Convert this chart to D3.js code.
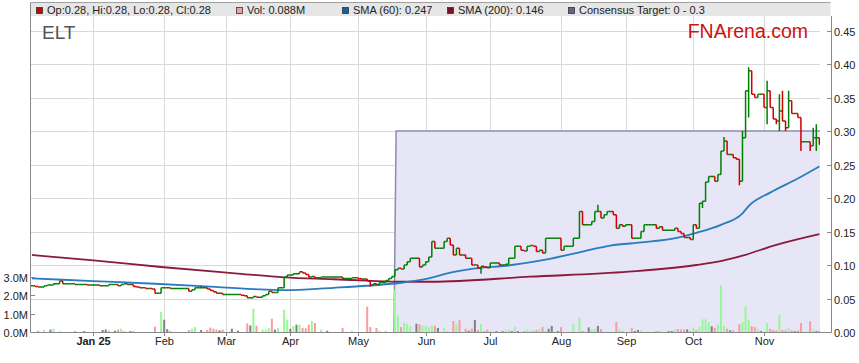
<!DOCTYPE html>
<html>
<head>
<meta charset="utf-8">
<script src="https://cdn.jsdelivr.net/npm/d3@7"></script>
<style>
  body { margin: 0; background: #fff; }
  svg { display: block; font-family: "Liberation Sans", Arial, sans-serif; }
</style>
</head>
<body>
<div id="chart"></div>
<script>
// ---- data ----
const ticker = "ELT";
const firstDay = "2024-12-04";
const lastDay = "2025-11-28";

// daily closes, one per weekday from firstDay
const closes = [
  // Dec
  0.069,0.068,0.067,0.067,0.069,0.070,0.070,0.072,0.072,0.076,0.072,0.072,0.072,0.072,0.071,0.071,0.071,0.071,0.070,0.070,
  // Jan
  0.070,0.070,0.069,0.069,0.069,0.071,0.071,0.071,0.069,0.071,0.072,0.071,0.071,0.068,0.067,0.066,0.066,0.065,0.065,0.064,0.058,0.058,0.066,
  // Feb
  0.066,0.066,0.065,0.065,0.065,0.065,0.065,0.065,0.061,0.063,0.066,0.066,0.066,0.066,0.064,0.062,0.060,0.058,0.058,0.056,
  // Mar
  0.056,0.056,0.056,0.056,0.056,0.055,0.054,0.051,0.051,0.053,0.052,0.052,0.054,0.056,0.061,0.059,0.059,0.066,0.066,0.082,0.085,
  // Apr
  0.085,0.087,0.087,0.090,0.088,0.086,0.082,0.083,0.081,0.081,0.082,0.082,0.082,0.082,0.082,0.082,0.082,0.080,0.080,0.080,0.081,0.081,
  // May
  0.080,0.079,0.079,0.076,0.070,0.072,0.071,0.074,0.074,0.077,0.080,0.083,0.093,0.095,0.094,0.100,0.105,0.110,0.110,0.110,0.097,0.100,
  // Jun
  0.105,0.112,0.135,0.125,0.125,0.125,0.135,0.140,0.130,0.115,0.125,0.115,0.115,0.110,0.110,0.100,0.100,0.095,0.098,0.097,0.096,
  // Jul
  0.103,0.103,0.103,0.100,0.100,0.101,0.110,0.110,0.128,0.128,0.122,0.121,0.128,0.129,0.128,0.120,0.122,0.118,0.140,0.140,0.140,0.140,0.140,
  // Aug
  0.122,0.128,0.128,0.128,0.140,0.140,0.180,0.160,0.160,0.160,0.165,0.180,0.180,0.170,0.175,0.180,0.180,0.175,0.155,0.160,0.158,
  // Sep
  0.160,0.160,0.140,0.140,0.140,0.150,0.160,0.160,0.160,0.160,0.155,0.157,0.152,0.152,0.152,0.152,0.155,0.150,0.147,0.141,0.141,0.138,
  // Oct
  0.160,0.155,0.192,0.195,0.224,0.232,0.232,0.225,0.235,0.270,0.285,0.265,0.265,0.260,0.258,0.225,0.290,0.360,0.390,0.355,0.350,0.355,0.355,
  // Nov
  0.335,0.360,0.335,0.318,0.315,0.330,0.315,0.305,0.345,0.326,0.326,0.320,0.284,0.284,0.284,0.278,0.290,0.290,0.280
];

// daily volume in millions, same days as closes
const volumes = [
  0,0,0.07,0,0.11,0,0.13,0.18,0,0.05,0,0,0,0,0.05,0,0,0.05,0,0,
  0,0,0,0.11,0.14,0.09,0,0.07,0.13,0.18,0.07,0,0.05,0.05,0,0,0,0,0,0,0.29,0,1.09,
  0.67,0.16,0.05,0,0,0,0,0,0.11,0.18,0.27,0,0.11,0,0.11,0.24,0.18,0.13,0.09,0.13,
  0,0,0.18,0,0.07,0,0,0.47,0.36,1.27,0.34,0,0.13,0.13,0.22,0.72,0.13,0.22,0,1.21,0.67,
  0.18,0.33,0.40,0.40,0.22,0.20,0.40,0.60,0.49,0,0.13,0,0.07,0,0,0,0,0.22,0,0,0.07,0,
  0,0,0,1.38,0.27,0,0.22,0.07,0,0.07,0,0,2.30,0.90,0.27,0.49,0.45,0.31,0,0.45,0.42,0.36,
  0.36,0.27,0.36,0.33,0.22,0,0.22,0.05,0,0.60,0.42,0.65,0,0.18,0.07,0.18,0.65,0.11,0.43,0.05,0.13,
  0.05,0,0.05,0,0.05,0.09,0.14,0.05,0.27,0.05,0,0.05,0.13,0.09,0.05,0.11,0.14,0.27,0.07,0.18,0.33,0,0.05,
  0.27,0,0,0,0.45,0,0.76,0.05,0,0.25,0.14,0.16,0.33,0.16,0,0,0,0,0.54,0.16,0.05,
  0,0,0.22,0.05,0.11,0.09,0,0,0,0,0.05,0.09,0,0,0.05,0.05,0.14,0.16,0.14,0.13,0.14,0.05,
  0.25,0.11,0.27,0.69,0.69,0.54,0.31,0.22,0.40,2.54,0.31,0.18,0.09,0.09,0,0.42,0.54,1.40,0.67,0.31,0.27,0.18,0.05,
  0,0.49,0.18,0.11,0.09,0.94,0.11,0.09,0.20,0.09,0.05,0.09,0.49,0,0,0.58,0.13,0.05,0.088
];

// intraday extremes beyond open/close: [day number, price]
const extraHighs = [[55,0.069],[184,0.19],[225,0.291],[231,0.30],[233,0.395],[234,0.39],[239,0.375],
  [240,0.36],[243,0.355],[244,0.36],[246,0.36],[254,0.305],[255,0.31]];
const extraLows = [[110,0.068],[146,0.087],[218,0.185],[230,0.219],[233,0.32],[239,0.31],[242,0.31],
  [243,0.30],[245,0.30],[246,0.305],[250,0.27],[253,0.27],[255,0.27]];

// moving averages: [day number, value]
const sma60 = [[0,0.080],[20,0.076],[40,0.072],[55,0.0685],[72,0.064],[82,0.0625],[98,0.066],[109,0.069],
  [120,0.0735],[129,0.080],[135,0.0875],[142,0.0935],[156,0.100],[167,0.108],[178,0.119],[188,0.129],
  [199,0.134],[210,0.141],[216,0.148],[224,0.160],[231,0.177],[233,0.188],[240,0.208],[249,0.229],[256,0.247]];
const sma200 = [[0,0.115],[20,0.107],[42,0.097],[66,0.0876],[82,0.0816],[98,0.0787],[109,0.0766],
  [120,0.075],[130,0.075],[162,0.0825],[194,0.090],[216,0.100],[225,0.107],[231,0.114],[242,0.130],[256,0.146]];

// consensus target band (low 0, high 0.3) from its start day
const consensusLow = 0, consensusHigh = 0.3;
const consensusStart = [117.7, 118.4];

const priceTicks = [0, 0.05, 0.10, 0.15, 0.20, 0.25, 0.30, 0.35, 0.40, 0.45];
const volTicks = [0, 1, 2, 3];
const monthLabels = ["Jan 25","Feb","Mar","Apr","May","Jun","Jul","Aug","Sep","Oct","Nov"];
const legendLabels = ["Op:0.28, Hi:0.28, Lo:0.28, Cl:0.28", "Vol: 0.088M", "SMA (60): 0.247",
  "SMA (200): 0.146", "Consensus Target: 0 - 0.3"];

// ---- layout ----
const W = 859, H = 363;
const plotL = 31, plotR = 820, plotT = 16, plotB = 332, axisR = 831;
const legendX = [36, 236, 342, 447, 568];
const legendColors = ["#cc0000", "#f4a0a0", "#0e64a8", "#7a0f30", "#64648f"];
const upColor = "#008000", downColor = "#d00000";
const volUp = "#98f898", volDown = "#f89c9c", volFlat = "#808080";

const parse = d3.timeParse("%Y-%m-%d");
const days = d3.timeDay.range(parse(firstDay), d3.timeDay.offset(parse(lastDay), 1))
  .filter(d => d.getDay() > 0 && d.getDay() < 6);

const x = d3.scaleLinear().domain([-0.3, 256.2]).range([plotL, plotR]);
const y = d3.scaleLinear().domain([0, 0.45]).range([plotB, 30.5]);
const yVol = d3.scaleLinear().domain([0, 1]).range([plotB, plotB - 18.4]);

const highMap = new Map(extraHighs), lowMap = new Map(extraLows);
const bars = closes.map((c, i) => {
  const o = i > 0 ? closes[i - 1] : c;
  return {
    i, o, c,
    h: Math.max(o, c, highMap.get(i) || 0),
    l: Math.min(o, c, lowMap.has(i) ? lowMap.get(i) : 9),
    v: volumes[i]
  };
});

const svg = d3.select("#chart").append("svg")
  .attr("width", W).attr("height", H);

svg.append("defs").append("clipPath").attr("id", "plot")
  .append("rect").attr("x", plotL).attr("y", plotT).attr("width", plotR - plotL).attr("height", plotB - plotT);

// legend band
svg.append("rect").attr("x", plotL - 0.5).attr("y", 2.5).attr("width", axisR - plotL).attr("height", 13.5)
  .attr("fill", "#e6e6e6");
svg.append("line").attr("x1", plotL - 0.5).attr("x2", axisR - 0.5).attr("y1", 2.5).attr("y2", 2.5)
  .attr("stroke", "#a0a0a0");

const legend = svg.append("g");
legendLabels.forEach((t, k) => {
  legend.append("rect").attr("x", legendX[k] + 0.5).attr("y", 7.5).attr("width", 6).attr("height", 6)
    .attr("fill", legendColors[k]).attr("stroke", "#333").attr("stroke-width", 0.8);
  legend.append("text").attr("x", legendX[k] + 11).attr("y", 14).attr("font-size", 11)
    .attr("fill", "#222").text(t);
});

// month positions: first weekday of each month
const monthStarts = d3.timeMonth.range(new Date(2025, 0, 1), new Date(2025, 10, 2));
const monthPos = monthStarts.map(m => days.findIndex(d => d >= m));

// grid
const grid = svg.append("g").attr("stroke", "#d9d9d9").attr("stroke-width", 1);
priceTicks.filter(t => t > 0).forEach(t => {
  grid.append("line").attr("x1", plotL).attr("x2", plotR)
    .attr("y1", Math.round(y(t)) + 0.5).attr("y2", Math.round(y(t)) + 0.5);
});
monthPos.forEach(p => {
  grid.append("line").attr("y1", plotT).attr("y2", plotB)
    .attr("x1", Math.round(x(p)) + 0.5).attr("x2", Math.round(x(p)) + 0.5);
});

const plot = svg.append("g").attr("clip-path", "url(#plot)");

// consensus target band
const band = [
  [consensusStart[0], consensusLow],
  [consensusStart[1], consensusHigh],
  [x.domain()[1] + 1, consensusHigh]
];
plot.append("path")
  .attr("d", d3.area().x(d => x(d[0])).y0(y(consensusLow)).y1(d => y(d[1]))(band))
  .attr("fill", "#e6e6f6");
plot.append("path")
  .attr("d", d3.line().x(d => x(d[0])).y(d => y(d[1]))(band))
  .attr("fill", "none").attr("stroke", "#8c8cb4").attr("stroke-width", 1.5);

// volume
plot.selectAll(".vol").data(bars.filter(b => b.v > 0)).join("rect")
  .attr("x", b => x(b.i) - 1).attr("width", 2)
  .attr("y", b => yVol(b.v)).attr("height", b => plotB - yVol(b.v))
  .attr("fill", b => b.c > b.o ? volUp : b.c < b.o ? volDown : volFlat);

// moving averages
const smaLine = d3.line().x(d => x(d[0])).y(d => y(d[1])).curve(d3.curveMonotoneX);
plot.append("path").attr("d", smaLine(sma200)).attr("fill", "none")
  .attr("stroke", "#8b1a3f").attr("stroke-width", 1.8);
plot.append("path").attr("d", smaLine(sma60)).attr("fill", "none")
  .attr("stroke", "#2a7cc0").attr("stroke-width", 1.8);

// price bars
const half = 1.6;
plot.selectAll(".bar").data(bars).join("path")
  .attr("d", b => {
    const cx = x(b.i);
    return `M${cx},${y(b.h)}V${y(b.l)}M${cx - half},${y(b.o)}H${cx}M${cx},${y(b.c)}H${cx + half}`;
  })
  .attr("fill", "none").attr("stroke-width", 1.5)
  .attr("stroke", b => b.c >= b.o ? upColor : downColor);

// axes frame
const axis = svg.append("g").attr("stroke", "#888").attr("stroke-width", 1);
axis.append("line").attr("x1", plotL - 0.5).attr("x2", plotL - 0.5).attr("y1", 2.5).attr("y2", plotB + 0.5);
axis.append("line").attr("x1", plotL - 0.5).attr("x2", axisR + 0.5).attr("y1", plotB + 0.5).attr("y2", plotB + 0.5);
axis.append("line").attr("x1", axisR + 0.5).attr("x2", axisR + 0.5).attr("y1", plotT).attr("y2", plotB + 0.5);

// right price axis
priceTicks.forEach(t => {
  const yy = Math.round(y(t)) + 0.5;
  axis.append("line").attr("x1", axisR - 4).attr("x2", axisR).attr("y1", yy).attr("y2", yy);
  svg.append("text").attr("x", axisR + 3).attr("y", yy + 4).attr("font-size", 11)
    .attr("fill", "#222").text(d3.format(".2f")(t));
});

// left volume axis
volTicks.forEach(t => {
  const yy = Math.round(yVol(t)) + 0.5;
  axis.append("line").attr("x1", plotL).attr("x2", plotL + 4).attr("y1", yy).attr("y2", yy);
  svg.append("text").attr("x", 28).attr("y", yy + 4).attr("font-size", 11).attr("text-anchor", "end")
    .attr("fill", "#222").text(d3.format(".1f")(t) + "M");
});

// month axis
monthPos.forEach((p, k) => {
  const xx = Math.round(x(p)) + 0.5;
  axis.append("line").attr("x1", xx).attr("x2", xx).attr("y1", plotB).attr("y2", plotB + 4);
  svg.append("text").attr("x", xx).attr("y", 345).attr("font-size", 11).attr("text-anchor", "middle")
    .attr("font-weight", k === 0 ? "bold" : "normal").attr("fill", "#222").text(monthLabels[k]);
});

// titles
svg.append("text").attr("x", 42).attr("y", 39).attr("font-size", 19).attr("fill", "#555").text(ticker);
svg.append("text").attr("x", 808).attr("y", 38).attr("font-size", 19.5).attr("text-anchor", "end")
  .attr("fill", "#cc1111").text("FNArena.com");
</script>
</body>
</html>
